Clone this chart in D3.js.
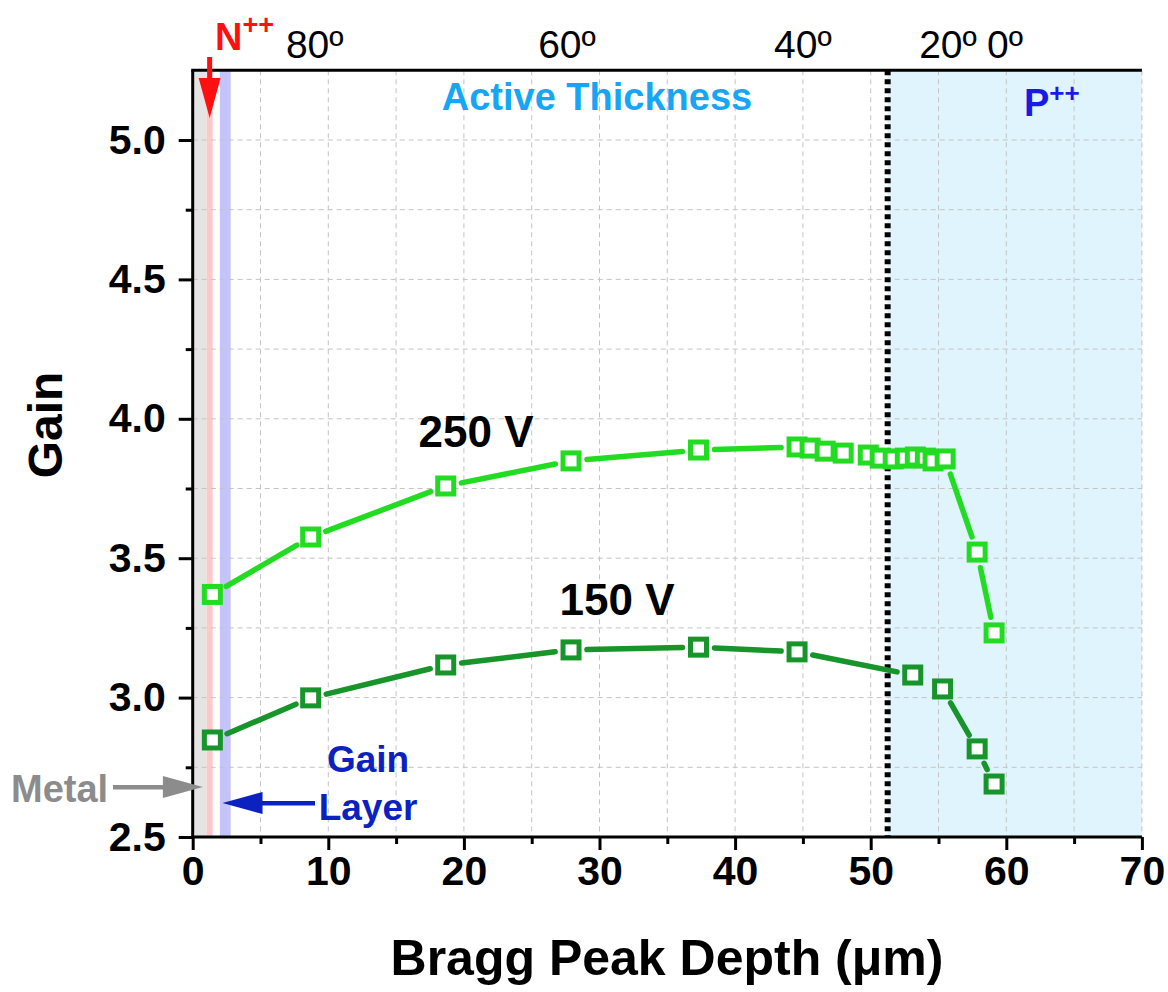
<!DOCTYPE html>
<html>
<head>
<meta charset="utf-8">
<script src="https://cdn.jsdelivr.net/npm/d3@7"></script>
<style>
  body { margin: 0; background: #fff; }
  svg { display: block; }
  text { font-family: "Liberation Sans", Arial, sans-serif; }
</style>
</head>
<body>
<svg id="chart" width="1168" height="992"></svg>
<script>
// Gain vs Bragg peak depth, two bias voltages
const depth250 = [1.45, 8.7, 18.66, 27.9, 37.3, 44.57, 45.53, 46.64, 47.97, 49.82, 50.7, 51.66, 52.55, 53.29, 54.03, 54.6, 55.49, 57.85, 59.1];
const gain250  = [3.37, 3.576, 3.759, 3.849, 3.888, 3.899, 3.895, 3.884, 3.877, 3.870, 3.859, 3.856, 3.859, 3.863, 3.859, 3.849, 3.856, 3.522, 3.232];
const depth150 = [1.45, 8.7, 18.66, 27.9, 37.3, 44.57, 53.1, 55.3, 57.85, 59.1];
const gain150  = [2.848, 2.999, 3.117, 3.171, 3.181, 3.164, 3.081, 3.031, 2.816, 2.69];
const seriesNames = ["250 V", "150 V"];

const xTicks = [0, 10, 20, 30, 40, 50, 60, 70];
const yTicks = [2.5, 3.0, 3.5, 4.0, 4.5, 5.0];
const angleLabels = ["80º", "60º", "40º", "20º", "0º"];
const angleDepths = [9.0, 27.6, 45.0, 55.7, 59.9];

// Device layers (depth ranges, µm)
const metalLayer = [0, 1.03];
const nPlusLayer = [1.03, 1.47];
const gainLayer = [2.0, 2.8];
const activeEdge = 51.25;
const xMax = 70;

const svg = d3.select("#chart");
const plotL = 192.7, plotR = 1141.9, plotT = 70.3, plotB = 837;

const x = d3.scaleLinear().domain([0, 70]).range([plotL, plotR]);
const y = d3.scaleLinear().domain([2.5, 5.25]).range([plotB, plotT]);

// Shaded regions
svg.append("rect").attr("x", x(activeEdge)).attr("y", plotT)
  .attr("width", x(xMax) - x(activeEdge)).attr("height", plotB - plotT).attr("fill", "#dff4fc");
svg.append("rect").attr("x", x(metalLayer[0])).attr("y", plotT)
  .attr("width", x(metalLayer[1]) - x(metalLayer[0])).attr("height", plotB - plotT).attr("fill", "#e4e4e4");
svg.append("rect").attr("x", x(nPlusLayer[0])).attr("y", plotT)
  .attr("width", x(nPlusLayer[1]) - x(nPlusLayer[0])).attr("height", plotB - plotT).attr("fill", "#ffc8c8");
svg.append("rect").attr("x", x(gainLayer[0])).attr("y", plotT)
  .attr("width", x(gainLayer[1]) - x(gainLayer[0])).attr("height", plotB - plotT).attr("fill", "#c4c4fa");

// Grid
const grid = svg.append("g").attr("stroke", "#c4c4c4").attr("stroke-width", 1).attr("stroke-dasharray", "5,4");
d3.range(5, 71, 5).forEach(v => {
  grid.append("line").attr("x1", x(v)).attr("x2", x(v)).attr("y1", plotT).attr("y2", plotB);
});
d3.range(2.75, 5.26, 0.25).forEach(v => {
  grid.append("line").attr("x1", plotL).attr("x2", plotR).attr("y1", y(v)).attr("y2", y(v));
});

// Active-thickness boundary
svg.append("line").attr("x1", x(activeEdge)).attr("x2", x(activeEdge))
  .attr("y1", plotT).attr("y2", plotB)
  .attr("stroke", "#000").attr("stroke-width", 6).attr("stroke-dasharray", "5,4");

// Axes
const xAxis = d3.axisBottom(x).tickValues(d3.range(0, 71, 5)).tickSize(13)
  .tickFormat(d => xTicks.includes(d) ? d : "");
const gx = svg.append("g").attr("transform", `translate(0,${plotB})`).call(xAxis);
gx.select(".domain").attr("stroke-width", 3).attr("d", `M${plotL},0H${plotR}`);
gx.selectAll(".tick line").attr("stroke-width", 3)
  .attr("y2", d => xTicks.includes(d) ? 13 : 7);
gx.selectAll(".tick text").attr("font-size", 41).attr("font-weight", "bold")
  .attr("fill", "#000").attr("y", 19).attr("dy", "0.71em");

const yAxis = d3.axisLeft(y).tickValues(d3.range(2.5, 5.01, 0.25)).tickSize(14)
  .tickFormat(d => yTicks.some(t => Math.abs(t - d) < 1e-6) ? d3.format(".1f")(d) : "");
const gy = svg.append("g").attr("transform", `translate(${plotL},0)`).call(yAxis);
gy.select(".domain").attr("stroke-width", 3).attr("d", `M0,${plotB + 1.5}V${plotT}`);
gy.selectAll(".tick line").attr("stroke-width", 3)
  .attr("x2", d => yTicks.some(t => Math.abs(t - d) < 1e-6) ? -14 : -7);
gy.selectAll(".tick text").attr("font-size", 41).attr("font-weight", "bold")
  .attr("fill", "#000").attr("x", -27);

// Top border
svg.append("line").attr("x1", plotL - 1.5).attr("x2", plotR).attr("y1", plotT).attr("y2", plotT)
  .attr("stroke", "#000").attr("stroke-width", 3);

// Angle labels along the top
svg.append("g").selectAll("text").data(angleLabels).join("text")
  .attr("x", (d, i) => x(angleDepths[i])).attr("y", 58)
  .attr("text-anchor", "middle").attr("font-size", 39).attr("fill", "#000")
  .text(d => d);

// Series with gaps around markers
function gappedSegments(xs, ys, gap) {
  const segs = [];
  for (let i = 0; i < xs.length - 1; i++) {
    const x1 = x(xs[i]), y1 = y(ys[i]), x2 = x(xs[i + 1]), y2 = y(ys[i + 1]);
    const dx = x2 - x1, dy = y2 - y1, L = Math.hypot(dx, dy);
    if (L <= 2 * gap + 2) continue;
    const ux = dx / L, uy = dy / L;
    segs.push([x1 + ux * gap, y1 + uy * gap, x2 - ux * gap, y2 - uy * gap]);
  }
  return segs;
}

function drawSeries(xs, ys, color) {
  const g = svg.append("g");
  g.selectAll("line").data(gappedSegments(xs, ys, 16)).join("line")
    .attr("x1", d => d[0]).attr("y1", d => d[1]).attr("x2", d => d[2]).attr("y2", d => d[3])
    .attr("stroke", color).attr("stroke-width", 5.5).attr("stroke-linecap", "round");
  g.selectAll("rect").data(xs.map((v, i) => [v, ys[i]])).join("rect")
    .attr("x", d => x(d[0]) - 8).attr("y", d => y(d[1]) - 8)
    .attr("width", 16).attr("height", 16)
    .attr("fill", "#fff").attr("stroke", color).attr("stroke-width", 5);
}
drawSeries(depth150, gain150, "#17942a");
drawSeries(depth250, gain250, "#22dc22");

// Series labels
svg.append("text").attr("x", 476).attr("y", 447).attr("text-anchor", "middle")
  .attr("font-size", 44).attr("font-weight", "bold").attr("fill", "#000").text(seriesNames[0]);
svg.append("text").attr("x", 617).attr("y", 615).attr("text-anchor", "middle")
  .attr("font-size", 44).attr("font-weight", "bold").attr("fill", "#000").text(seriesNames[1]);

// Region labels
svg.append("text").attr("x", 597).attr("y", 110).attr("text-anchor", "middle")
  .attr("font-size", 38).attr("font-weight", "bold").attr("fill", "#16a6f5").text("Active Thickness");

const pLabel = svg.append("text").attr("x", 1024).attr("y", 116)
  .attr("font-size", 38).attr("font-weight", "bold").attr("fill", "#1a1ae6");
pLabel.append("tspan").text("P");
pLabel.append("tspan").attr("font-size", 26).attr("dy", -14).text("++");

const nLabel = svg.append("text").attr("x", 215).attr("y", 50)
  .attr("font-size", 38).attr("font-weight", "bold").attr("fill", "#ff1010");
nLabel.append("tspan").text("N");
nLabel.append("tspan").attr("font-size", 27).attr("dy", -16).text("++");

// N++ arrow
const ax = x((nPlusLayer[0] + nPlusLayer[1]) / 2);
svg.append("rect").attr("x", ax - 2.5).attr("y", 57).attr("width", 5).attr("height", 24).attr("fill", "#ff1010");
svg.append("path").attr("d", `M${ax - 11},78L${ax + 11},78L${ax},118Z`).attr("fill", "#ff1010");

// Metal label and arrow
svg.append("text").attr("x", 11).attr("y", 802).attr("font-size", 38).attr("font-weight", "bold")
  .attr("fill", "#8c8c8c").text("Metal");
const mx = x(0.75);
svg.append("rect").attr("x", 113).attr("y", 785).attr("width", mx - 36 - 113).attr("height", 4.5).attr("fill", "#8c8c8c");
svg.append("path").attr("d", `M${mx - 40},776L${mx - 40},798L${mx},787Z`).attr("fill", "#8c8c8c");

// Gain layer label and arrow
svg.append("text").attr("x", 368).attr("y", 772).attr("text-anchor", "middle")
  .attr("font-size", 37).attr("font-weight", "bold").attr("fill", "#0c22c0").text("Gain");
svg.append("text").attr("x", 368).attr("y", 820).attr("text-anchor", "middle")
  .attr("font-size", 37).attr("font-weight", "bold").attr("fill", "#0c22c0").text("Layer");
const gxTip = x(2.2);
svg.append("rect").attr("x", gxTip + 36).attr("y", 801).attr("width", 315 - gxTip - 36).attr("height", 4.5).attr("fill", "#0c22c0");
svg.append("path").attr("d", `M${gxTip + 40},792L${gxTip + 40},814L${gxTip},803Z`).attr("fill", "#0c22c0");

// Axis titles
svg.append("text").attr("x", 667).attr("y", 975).attr("text-anchor", "middle")
  .attr("font-size", 50).attr("font-weight", "bold").attr("fill", "#000").text("Bragg Peak Depth (μm)");
svg.append("text").attr("transform", "translate(62,425) rotate(-90)").attr("text-anchor", "middle")
  .attr("font-size", 48).attr("font-weight", "bold").attr("fill", "#000").text("Gain");
</script>
</body>
</html>
